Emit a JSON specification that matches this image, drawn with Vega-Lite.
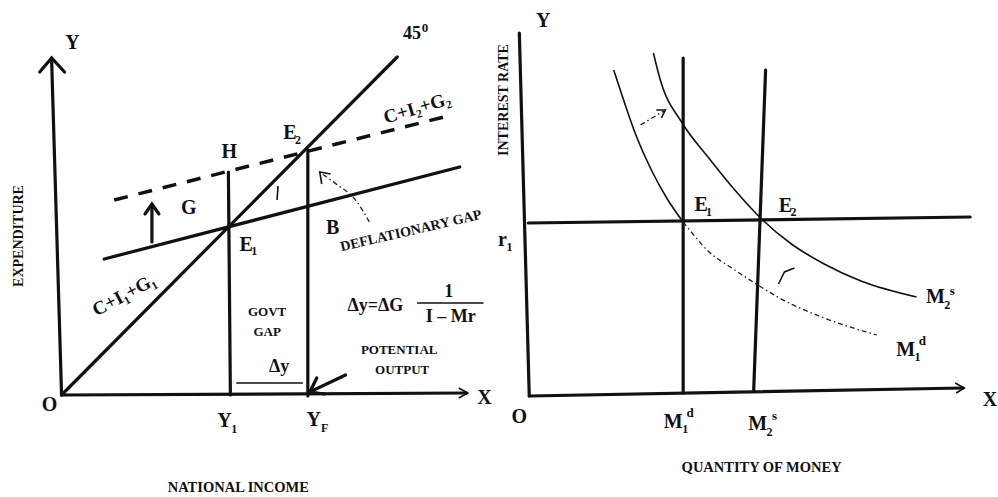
{
  "$schema": "https://vega.github.io/schema/vega-lite/v6.json",
  "width": 998,
  "height": 497,
  "padding": 0,
  "autosize": {"type": "fit", "contains": "padding"},
  "background": "white",
  "config": {"view": {"stroke": null}},
  "datasets": {
    "thick": [
      {"id": "ly", "o": 0, "x": 52, "y": 60}, {"id": "ly", "o": 1, "x": 62, "y": 395},
      {"id": "lx", "o": 0, "x": 62, "y": 395}, {"id": "lx", "o": 1, "x": 470, "y": 393},
      {"id": "d45", "o": 0, "x": 62, "y": 395}, {"id": "d45", "o": 1, "x": 400, "y": 57},
      {"id": "c1", "o": 0, "x": 105, "y": 259}, {"id": "c1", "o": 1, "x": 463, "y": 167},
      {"id": "vy1", "o": 0, "x": 230, "y": 172}, {"id": "vy1", "o": 1, "x": 232, "y": 395},
      {"id": "vyf", "o": 0, "x": 310, "y": 150}, {"id": "vyf", "o": 1, "x": 310, "y": 396},
      {"id": "ry", "o": 0, "x": 523, "y": 33}, {"id": "ry", "o": 1, "x": 533, "y": 396},
      {"id": "rx", "o": 0, "x": 533, "y": 396}, {"id": "rx", "o": 1, "x": 970, "y": 388},
      {"id": "r1", "o": 0, "x": 532, "y": 223}, {"id": "r1", "o": 1, "x": 977, "y": 217},
      {"id": "m1", "o": 0, "x": 688, "y": 58}, {"id": "m1", "o": 1, "x": 688, "y": 393},
      {"id": "m2", "o": 0, "x": 771, "y": 70}, {"id": "m2", "o": 1, "x": 759, "y": 391},
      {"id": "hy", "o": 0, "x": 40, "y": 72}, {"id": "hy", "o": 1, "x": 52, "y": 58}, {"id": "hy", "o": 2, "x": 65, "y": 72},
      {"id": "up", "o": 0, "x": 153, "y": 242}, {"id": "up", "o": 1, "x": 153, "y": 206},
      {"id": "uph", "o": 0, "x": 146, "y": 214}, {"id": "uph", "o": 1, "x": 153, "y": 204}, {"id": "uph", "o": 2, "x": 160, "y": 214},
      {"id": "yfa", "o": 0, "x": 348, "y": 375}, {"id": "yfa", "o": 1, "x": 314, "y": 391},
      {"id": "yfh", "o": 0, "x": 319, "y": 378}, {"id": "yfh", "o": 1, "x": 312, "y": 392}, {"id": "yfh", "o": 2, "x": 327, "y": 394}
    ],
    "thin": [
      {"id": "dy", "o": 0, "x": 238, "y": 383}, {"id": "dy", "o": 1, "x": 305, "y": 383},
      {"id": "lxh", "o": 0, "x": 462, "y": 388}, {"id": "lxh", "o": 1, "x": 471, "y": 393}, {"id": "lxh", "o": 2, "x": 462, "y": 398},
      {"id": "rxh", "o": 0, "x": 962, "y": 383}, {"id": "rxh", "o": 1, "x": 971, "y": 388}, {"id": "rxh", "o": 2, "x": 963, "y": 393},
      {"id": "frac", "o": 0, "x": 420, "y": 303}, {"id": "frac", "o": 1, "x": 487, "y": 303},
      {"id": "tk", "o": 0, "x": 280, "y": 186}, {"id": "tk", "o": 1, "x": 279, "y": 200},
      {"id": "hk", "o": 0, "x": 784, "y": 284}, {"id": "hk", "o": 1, "x": 790, "y": 272}, {"id": "hk", "o": 2, "x": 800, "y": 268},
      {"id": "rah", "o": 0, "x": 661, "y": 110}, {"id": "rah", "o": 1, "x": 670, "y": 110}, {"id": "rah", "o": 2, "x": 666, "y": 118},
      {"id": "lah", "o": 0, "x": 324, "y": 184}, {"id": "lah", "o": 1, "x": 322, "y": 172}, {"id": "lah", "o": 2, "x": 333, "y": 174}
    ],
    "curves": [
      {"id": "ms", "o": 0, "x": 658, "y": 53}, {"id": "ms", "o": 1, "x": 665, "y": 80}, {"id": "ms", "o": 2, "x": 687, "y": 123},
      {"id": "ms", "o": 3, "x": 713, "y": 157}, {"id": "ms", "o": 4, "x": 740, "y": 190}, {"id": "ms", "o": 5, "x": 768, "y": 220},
      {"id": "ms", "o": 6, "x": 797, "y": 244}, {"id": "ms", "o": 7, "x": 830, "y": 264}, {"id": "ms", "o": 8, "x": 867, "y": 281},
      {"id": "ms", "o": 9, "x": 923, "y": 297},
      {"id": "md", "o": 0, "x": 618, "y": 70}, {"id": "md", "o": 1, "x": 628, "y": 100}, {"id": "md", "o": 2, "x": 640, "y": 134},
      {"id": "md", "o": 3, "x": 657, "y": 172}, {"id": "md", "o": 4, "x": 672, "y": 199}, {"id": "md", "o": 5, "x": 688, "y": 222}
    ],
    "dotted": [
      {"id": "md2", "o": 0, "x": 688, "y": 222}, {"id": "md2", "o": 1, "x": 697, "y": 233}, {"id": "md2", "o": 2, "x": 713, "y": 251},
      {"id": "md2", "o": 3, "x": 737, "y": 268}, {"id": "md2", "o": 4, "x": 760, "y": 283}, {"id": "md2", "o": 5, "x": 785, "y": 298},
      {"id": "md2", "o": 6, "x": 830, "y": 318}, {"id": "md2", "o": 7, "x": 883, "y": 335},
      {"id": "ra", "o": 0, "x": 645, "y": 125}, {"id": "ra", "o": 1, "x": 670, "y": 110},
      {"id": "la", "o": 0, "x": 372, "y": 222}, {"id": "la", "o": 1, "x": 358, "y": 200}, {"id": "la", "o": 2, "x": 340, "y": 185}, {"id": "la", "o": 3, "x": 323, "y": 173}
    ],
    "dashed": [
      {"id": "c2", "o": 0, "x": 115, "y": 200}, {"id": "c2", "o": 1, "x": 455, "y": 115}
    ],
    "big": [
      {"x": 73, "y": 43, "t": "Y"}, {"x": 231, "y": 152, "t": "H"}, {"x": 292, "y": 133, "t": "E"},
      {"x": 190, "y": 208, "t": "G"}, {"x": 248, "y": 245, "t": "E"}, {"x": 335, "y": 228, "t": "B"},
      {"x": 50, "y": 405, "t": "O"}, {"x": 488, "y": 398, "t": "X"}, {"x": 226, "y": 421, "t": "Y"},
      {"x": 316, "y": 420, "t": "Y"}, {"x": 547, "y": 21, "t": "Y"}, {"x": 506, "y": 240, "t": "r"},
      {"x": 523, "y": 417, "t": "O"}, {"x": 997, "y": 400, "t": "X"}, {"x": 706, "y": 205, "t": "E"},
      {"x": 791, "y": 206, "t": "E"}, {"x": 942, "y": 297, "t": "M"}, {"x": 912, "y": 350, "t": "M"},
      {"x": 678, "y": 422, "t": "M"}, {"x": 763, "y": 424, "t": "M"}
    ],
    "sub": [
      {"x": 300, "y": 140, "t": "2"}, {"x": 256, "y": 251, "t": "1"}, {"x": 236, "y": 429, "t": "1"},
      {"x": 327, "y": 428, "t": "F"}, {"x": 513, "y": 247, "t": "1"}, {"x": 714, "y": 212, "t": "1"},
      {"x": 799, "y": 212, "t": "2"}, {"x": 954, "y": 305, "t": "2"}, {"x": 924, "y": 357, "t": "1"},
      {"x": 690, "y": 429, "t": "1"}, {"x": 775, "y": 432, "t": "2"}
    ],
    "sup": [
      {"x": 959, "y": 291, "t": "s"}, {"x": 929, "y": 341, "t": "d"}, {"x": 695, "y": 413, "t": "d"},
      {"x": 780, "y": 416, "t": "s"}, {"x": 428, "y": 28, "t": "0"}
    ],
    "small": [
      {"x": 269, "y": 312, "t": "GOVT"}, {"x": 269, "y": 332, "t": "GAP"},
      {"x": 402, "y": 350, "t": "POTENTIAL"}, {"x": 405, "y": 370, "t": "OUTPUT"}
    ],
    "label": [
      {"x": 240, "y": 488, "t": "NATIONAL INCOME"}, {"x": 767, "y": 468, "t": "QUANTITY OF MONEY"}
    ],
    "mid": [
      {"x": 378, "y": 306, "t": "Δy=ΔG"}, {"x": 452, "y": 292, "t": "1"}, {"x": 454, "y": 317, "t": "I – Mr"},
      {"x": 281, "y": 367, "t": "Δy"}, {"x": 415, "y": 34, "t": "45"}
    ]
  },
  "layer": [
    {
      "data": {"name": "thick"},
      "mark": {"type": "line", "stroke": "#111", "strokeWidth": 3.2, "strokeCap": "round"},
      "encoding": {
        "x": {"field": "x", "type": "quantitative", "scale": {"domain": [0, 998], "nice": false, "zero": false}, "axis": null},
        "y": {"field": "y", "type": "quantitative", "scale": {"domain": [0, 497], "nice": false, "zero": false, "reverse": true}, "axis": null},
        "detail": {"field": "id"},
        "order": {"field": "o"}
      }
    },
    {
      "data": {"name": "dashed"},
      "mark": {"type": "line", "stroke": "#111", "strokeWidth": 3.5, "strokeDash": [14, 11]},
      "encoding": {
        "x": {"field": "x", "type": "quantitative"},
        "y": {"field": "y", "type": "quantitative"},
        "detail": {"field": "id"},
        "order": {"field": "o"}
      }
    },
    {
      "data": {"name": "thin"},
      "mark": {"type": "line", "stroke": "#111", "strokeWidth": 1.6},
      "encoding": {
        "x": {"field": "x", "type": "quantitative"},
        "y": {"field": "y", "type": "quantitative"},
        "detail": {"field": "id"},
        "order": {"field": "o"}
      }
    },
    {
      "data": {"name": "curves"},
      "mark": {"type": "line", "stroke": "#111", "strokeWidth": 1.6, "interpolate": "monotone"},
      "encoding": {
        "x": {"field": "x", "type": "quantitative"},
        "y": {"field": "y", "type": "quantitative"},
        "detail": {"field": "id"},
        "order": {"field": "o"}
      }
    },
    {
      "data": {"name": "dotted"},
      "mark": {"type": "line", "stroke": "#222", "strokeWidth": 1.3, "strokeDash": [5, 3, 1.5, 3], "interpolate": "monotone"},
      "encoding": {
        "x": {"field": "x", "type": "quantitative"},
        "y": {"field": "y", "type": "quantitative"},
        "detail": {"field": "id"},
        "order": {"field": "o"}
      }
    },
    {
      "data": {"name": "big"},
      "mark": {"type": "text", "font": "Liberation Serif", "fontSize": 20, "fontWeight": "bold", "fill": "#111", "baseline": "middle", "align": "center"},
      "encoding": {"x": {"field": "x", "type": "quantitative"}, "y": {"field": "y", "type": "quantitative"}, "text": {"field": "t"}}
    },
    {
      "data": {"name": "sub"},
      "mark": {"type": "text", "font": "Liberation Serif", "fontSize": 12, "fontWeight": "bold", "fill": "#111", "baseline": "middle", "align": "center"},
      "encoding": {"x": {"field": "x", "type": "quantitative"}, "y": {"field": "y", "type": "quantitative"}, "text": {"field": "t"}}
    },
    {
      "data": {"name": "sup"},
      "mark": {"type": "text", "font": "Liberation Serif", "fontSize": 13, "fontWeight": "bold", "fill": "#111", "baseline": "middle", "align": "center"},
      "encoding": {"x": {"field": "x", "type": "quantitative"}, "y": {"field": "y", "type": "quantitative"}, "text": {"field": "t"}}
    },
    {
      "data": {"name": "small"},
      "mark": {"type": "text", "font": "Liberation Serif", "fontSize": 13, "fontWeight": "bold", "fill": "#111", "baseline": "middle", "align": "center"},
      "encoding": {"x": {"field": "x", "type": "quantitative"}, "y": {"field": "y", "type": "quantitative"}, "text": {"field": "t"}}
    },
    {
      "data": {"name": "label"},
      "mark": {"type": "text", "font": "Liberation Serif", "fontSize": 14.5, "fontWeight": "bold", "fill": "#111", "baseline": "middle", "align": "center"},
      "encoding": {"x": {"field": "x", "type": "quantitative"}, "y": {"field": "y", "type": "quantitative"}, "text": {"field": "t"}}
    },
    {
      "data": {"name": "mid"},
      "mark": {"type": "text", "font": "Liberation Serif", "fontSize": 18, "fontWeight": "bold", "fill": "#111", "baseline": "middle", "align": "center"},
      "encoding": {"x": {"field": "x", "type": "quantitative"}, "y": {"field": "y", "type": "quantitative"}, "text": {"field": "t"}}
    },
    {
      "data": {"values": [{"x": 414, "y": 231, "t": "DEFLATIONARY GAP"}]},
      "mark": {"type": "text", "font": "Liberation Serif", "fontSize": 14, "fontWeight": "bold", "fill": "#111", "angle": 347, "baseline": "middle", "align": "center"},
      "encoding": {"x": {"field": "x", "type": "quantitative"}, "y": {"field": "y", "type": "quantitative"}, "text": {"field": "t"}}
    },
    {
      "data": {"values": [{"x": 420, "y": 108, "t": "C+I₂+G₂"}]},
      "mark": {"type": "text", "font": "Liberation Serif", "fontSize": 19, "fontWeight": "bold", "fill": "#111", "angle": 343, "baseline": "middle", "align": "center"},
      "encoding": {"x": {"field": "x", "type": "quantitative"}, "y": {"field": "y", "type": "quantitative"}, "text": {"field": "t"}}
    },
    {
      "data": {"values": [{"x": 125, "y": 295, "t": "C+I₁+G₁"}]},
      "mark": {"type": "text", "font": "Liberation Serif", "fontSize": 19, "fontWeight": "bold", "fill": "#111", "angle": 332, "baseline": "middle", "align": "center"},
      "encoding": {"x": {"field": "x", "type": "quantitative"}, "y": {"field": "y", "type": "quantitative"}, "text": {"field": "t"}}
    },
    {
      "data": {"values": [{"x": 19, "y": 236, "t": "EXPENDITURE"}, {"x": 508, "y": 100, "t": "INTEREST RATE"}]},
      "mark": {"type": "text", "font": "Liberation Serif", "fontSize": 14, "fontWeight": "bold", "fill": "#111", "angle": 270, "baseline": "middle", "align": "center"},
      "encoding": {"x": {"field": "x", "type": "quantitative"}, "y": {"field": "y", "type": "quantitative"}, "text": {"field": "t"}}
    }
  ]
}
